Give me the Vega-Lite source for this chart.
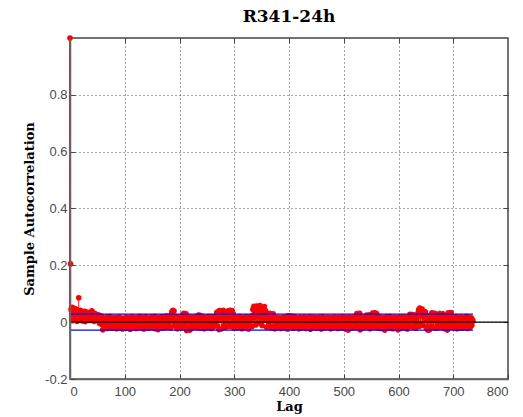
{
  "$schema": "https://vega.github.io/schema/vega-lite/v6.json",
  "width": 438,
  "height": 341,
  "autosize": "none",
  "padding": {"left": 70, "top": 38, "right": 15, "bottom": 38},
  "background": "white",
  "title": {"text": "R341-24h", "font": "DejaVu Serif", "fontSize": 17, "fontWeight": "bold", "color": "#000", "offset": 9},
  "config": {
    "view": {"stroke": "#444", "strokeWidth": 1.5},
    "axis": {
      "labelFont": "Liberation Sans", "labelFontSize": 13, "labelColor": "#4a4a4a",
      "domainColor": "#666", "domainWidth": 1.5, "tickColor": "#444", "tickSize": -5,
      "gridColor": "#000", "gridDash": [1, 3], "gridOpacity": 0.7,
      "titleFont": "DejaVu Serif", "titleFontWeight": "bold", "titleFontSize": 13, "titleColor": "#000"
    }
  },
  "resolve": {"axis": {"x": "independent", "y": "independent"}},
  "datasets": {
    "acf": [
      {"lag":0,"acf":1.0},{"lag":1,"acf":0.205},{"lag":2,"acf":0.045},{"lag":3,"acf":0.038},{"lag":4,"acf":0.052},{"lag":5,"acf":0.005},{"lag":6,"acf":0.041},{"lag":7,"acf":0.025},{"lag":8,"acf":0.036},{"lag":9,"acf":0.048},
      {"lag":10,"acf":0.033},{"lag":11,"acf":0.028},{"lag":12,"acf":0.044},{"lag":13,"acf":0.003},{"lag":14,"acf":0.039},{"lag":15,"acf":0.030},{"lag":16,"acf":0.086},{"lag":17,"acf":0.035},{"lag":18,"acf":0.026},{"lag":19,"acf":0.042},
      {"lag":20,"acf":0.031},{"lag":21,"acf":0.019},{"lag":22,"acf":0.037},{"lag":23,"acf":0.004},{"lag":24,"acf":0.034},{"lag":25,"acf":0.015},{"lag":26,"acf":0.029},{"lag":27,"acf":0.038},{"lag":28,"acf":0.002},{"lag":29,"acf":0.033},
      {"lag":30,"acf":0.018},{"lag":31,"acf":0.027},{"lag":32,"acf":0.035},{"lag":33,"acf":0.012},{"lag":34,"acf":0.024},{"lag":35,"acf":0.030},{"lag":36,"acf":0.006},{"lag":37,"acf":0.026},{"lag":38,"acf":0.020},{"lag":39,"acf":0.034},
      {"lag":40,"acf":0.040},{"lag":41,"acf":0.022},{"lag":42,"acf":0.011},{"lag":43,"acf":0.028},{"lag":44,"acf":0.003},{"lag":45,"acf":0.031},{"lag":46,"acf":0.009},{"lag":47,"acf":0.024},{"lag":48,"acf":0.014},{"lag":49,"acf":0.027},
      {"lag":50,"acf":0.006},{"lag":51,"acf":0.020},{"lag":52,"acf":0.012},{"lag":53,"acf":0.025},{"lag":54,"acf":-0.004},{"lag":55,"acf":0.016},{"lag":56,"acf":0.003},{"lag":57,"acf":0.021},{"lag":58,"acf":-0.008},{"lag":59,"acf":0.011},
      {"lag":60,"acf":-0.027},{"lag":61,"acf":0.005},{"lag":62,"acf":-0.015},{"lag":63,"acf":0.014},{"lag":64,"acf":-0.020},{"lag":65,"acf":0.002},{"lag":66,"acf":-0.011},{"lag":67,"acf":0.018},{"lag":68,"acf":-0.022},{"lag":69,"acf":0.008},
      {"lag":70,"acf":-0.016},{"lag":71,"acf":0.012},{"lag":72,"acf":-0.006},{"lag":73,"acf":0.020},{"lag":74,"acf":-0.019},{"lag":75,"acf":0.004},{"lag":76,"acf":-0.012},{"lag":77,"acf":0.015},{"lag":78,"acf":-0.021},{"lag":79,"acf":0.007},
      {"lag":80,"acf":0.010},{"lag":81,"acf":-0.018},{"lag":82,"acf":0.003},{"lag":83,"acf":0.016},{"lag":84,"acf":-0.009},{"lag":85,"acf":-0.023},{"lag":86,"acf":0.006},{"lag":87,"acf":0.013},{"lag":88,"acf":-0.014},{"lag":89,"acf":0.001},
      {"lag":90,"acf":0.018},{"lag":91,"acf":-0.020},{"lag":92,"acf":-0.005},{"lag":93,"acf":0.009},{"lag":94,"acf":-0.012},{"lag":95,"acf":0.014},{"lag":96,"acf":-0.024},{"lag":97,"acf":0.004},{"lag":98,"acf":0.011},{"lag":99,"acf":-0.016},
      {"lag":100,"acf":0.007},{"lag":101,"acf":-0.002},{"lag":102,"acf":0.017},{"lag":103,"acf":-0.021},{"lag":104,"acf":0.010},{"lag":105,"acf":-0.008},{"lag":106,"acf":0.002},{"lag":107,"acf":0.015},{"lag":108,"acf":-0.017},{"lag":109,"acf":0.005},
      {"lag":110,"acf":-0.025},{"lag":111,"acf":0.012},{"lag":112,"acf":-0.006},{"lag":113,"acf":0.019},{"lag":114,"acf":-0.013},{"lag":115,"acf":0.003},{"lag":116,"acf":0.009},{"lag":117,"acf":-0.019},{"lag":118,"acf":0.014},{"lag":119,"acf":-0.003},
      {"lag":120,"acf":0.006},{"lag":121,"acf":-0.022},{"lag":122,"acf":0.016},{"lag":123,"acf":-0.010},{"lag":124,"acf":0.001},{"lag":125,"acf":0.012},{"lag":126,"acf":-0.015},{"lag":127,"acf":0.020},{"lag":128,"acf":-0.007},{"lag":129,"acf":0.004},
      {"lag":130,"acf":-0.020},{"lag":131,"acf":0.011},{"lag":132,"acf":0.017},{"lag":133,"acf":-0.012},{"lag":134,"acf":0.002},{"lag":135,"acf":-0.024},{"lag":136,"acf":0.008},{"lag":137,"acf":0.014},{"lag":138,"acf":-0.005},{"lag":139,"acf":0.019},
      {"lag":140,"acf":-0.016},{"lag":141,"acf":0.006},{"lag":142,"acf":-0.001},{"lag":143,"acf":0.013},{"lag":144,"acf":-0.021},{"lag":145,"acf":0.010},{"lag":146,"acf":0.003},{"lag":147,"acf":-0.011},{"lag":148,"acf":0.018},{"lag":149,"acf":-0.006},
      {"lag":150,"acf":0.009},{"lag":151,"acf":-0.019},{"lag":152,"acf":0.015},{"lag":153,"acf":0.001},{"lag":154,"acf":-0.013},{"lag":155,"acf":0.020},{"lag":156,"acf":-0.023},{"lag":157,"acf":0.007},{"lag":158,"acf":0.012},{"lag":159,"acf":-0.008},
      {"lag":160,"acf":0.004},{"lag":161,"acf":-0.026},{"lag":162,"acf":0.016},{"lag":163,"acf":-0.004},{"lag":164,"acf":0.011},{"lag":165,"acf":-0.017},{"lag":166,"acf":0.002},{"lag":167,"acf":0.019},{"lag":168,"acf":-0.010},{"lag":169,"acf":0.008},
      {"lag":170,"acf":-0.021},{"lag":171,"acf":0.013},{"lag":172,"acf":-0.002},{"lag":173,"acf":0.017},{"lag":174,"acf":-0.014},{"lag":175,"acf":0.005},{"lag":176,"acf":0.021},{"lag":177,"acf":-0.018},{"lag":178,"acf":0.010},{"lag":179,"acf":-0.006},
      {"lag":180,"acf":0.015},{"lag":181,"acf":-0.011},{"lag":182,"acf":0.003},{"lag":183,"acf":0.022},{"lag":184,"acf":-0.020},{"lag":185,"acf":0.012},{"lag":186,"acf":0.036},{"lag":187,"acf":0.026},{"lag":188,"acf":0.042},{"lag":189,"acf":0.018},
      {"lag":190,"acf":0.039},{"lag":191,"acf":-0.008},{"lag":192,"acf":0.014},{"lag":193,"acf":-0.016},{"lag":194,"acf":0.006},{"lag":195,"acf":0.020},{"lag":196,"acf":-0.023},{"lag":197,"acf":0.009},{"lag":198,"acf":-0.003},{"lag":199,"acf":0.016},
      {"lag":200,"acf":-0.012},{"lag":201,"acf":0.011},{"lag":202,"acf":0.001},{"lag":203,"acf":0.018},{"lag":204,"acf":-0.019},{"lag":205,"acf":0.007},{"lag":206,"acf":0.028},{"lag":207,"acf":-0.006},{"lag":208,"acf":0.031},{"lag":209,"acf":0.013},
      {"lag":210,"acf":0.024},{"lag":211,"acf":-0.015},{"lag":212,"acf":0.029},{"lag":213,"acf":-0.029},{"lag":214,"acf":0.010},{"lag":215,"acf":-0.027},{"lag":216,"acf":0.019},{"lag":217,"acf":-0.024},{"lag":218,"acf":0.003},{"lag":219,"acf":-0.028},
      {"lag":220,"acf":0.012},{"lag":221,"acf":-0.009},{"lag":222,"acf":0.017},{"lag":223,"acf":-0.020},{"lag":224,"acf":0.005},{"lag":225,"acf":0.014},{"lag":226,"acf":-0.013},{"lag":227,"acf":0.008},{"lag":228,"acf":-0.002},{"lag":229,"acf":0.019},
      {"lag":230,"acf":-0.018},{"lag":231,"acf":0.006},{"lag":232,"acf":0.013},{"lag":233,"acf":-0.010},{"lag":234,"acf":0.024},{"lag":235,"acf":0.002},{"lag":236,"acf":0.025},{"lag":237,"acf":-0.021},{"lag":238,"acf":0.016},{"lag":239,"acf":0.022},
      {"lag":240,"acf":-0.007},{"lag":241,"acf":0.011},{"lag":242,"acf":-0.016},{"lag":243,"acf":0.018},{"lag":244,"acf":0.001},{"lag":245,"acf":-0.023},{"lag":246,"acf":0.009},{"lag":247,"acf":0.015},{"lag":248,"acf":-0.012},{"lag":249,"acf":0.004},
      {"lag":250,"acf":0.017},{"lag":251,"acf":-0.019},{"lag":252,"acf":0.007},{"lag":253,"acf":-0.004},{"lag":254,"acf":0.020},{"lag":255,"acf":-0.014},{"lag":256,"acf":0.010},{"lag":257,"acf":0.002},{"lag":258,"acf":-0.022},{"lag":259,"acf":0.013},
      {"lag":260,"acf":-0.008},{"lag":261,"acf":0.019},{"lag":262,"acf":-0.017},{"lag":263,"acf":0.006},{"lag":264,"acf":0.014},{"lag":265,"acf":-0.011},{"lag":266,"acf":0.003},{"lag":267,"acf":0.018},{"lag":268,"acf":0.034},{"lag":269,"acf":-0.013},
      {"lag":270,"acf":0.036},{"lag":271,"acf":0.025},{"lag":272,"acf":-0.026},{"lag":273,"acf":0.041},{"lag":274,"acf":0.017},{"lag":275,"acf":0.030},{"lag":276,"acf":-0.024},{"lag":277,"acf":0.038},{"lag":278,"acf":0.020},{"lag":279,"acf":0.033},
      {"lag":280,"acf":0.042},{"lag":281,"acf":-0.012},{"lag":282,"acf":0.027},{"lag":283,"acf":0.009},{"lag":284,"acf":-0.018},{"lag":285,"acf":0.015},{"lag":286,"acf":0.004},{"lag":287,"acf":-0.009},{"lag":288,"acf":0.021},{"lag":289,"acf":0.040},
      {"lag":290,"acf":0.028},{"lag":291,"acf":-0.015},{"lag":292,"acf":0.042},{"lag":293,"acf":0.019},{"lag":294,"acf":0.035},{"lag":295,"acf":-0.006},{"lag":296,"acf":0.041},{"lag":297,"acf":0.012},{"lag":298,"acf":0.030},{"lag":299,"acf":-0.020},
      {"lag":300,"acf":0.013},{"lag":301,"acf":-0.010},{"lag":302,"acf":0.018},{"lag":303,"acf":0.002},{"lag":304,"acf":-0.021},{"lag":305,"acf":0.009},{"lag":306,"acf":0.016},{"lag":307,"acf":-0.005},{"lag":308,"acf":0.011},{"lag":309,"acf":-0.017},
      {"lag":310,"acf":0.020},{"lag":311,"acf":0.004},{"lag":312,"acf":-0.013},{"lag":313,"acf":0.015},{"lag":314,"acf":-0.023},{"lag":315,"acf":0.007},{"lag":316,"acf":0.012},{"lag":317,"acf":-0.008},{"lag":318,"acf":0.017},{"lag":319,"acf":0.001},
      {"lag":320,"acf":-0.019},{"lag":321,"acf":0.014},{"lag":322,"acf":-0.003},{"lag":323,"acf":0.019},{"lag":324,"acf":-0.012},{"lag":325,"acf":0.008},{"lag":326,"acf":-0.024},{"lag":327,"acf":0.016},{"lag":328,"acf":0.005},{"lag":329,"acf":-0.009},
      {"lag":330,"acf":0.018},{"lag":331,"acf":0.010},{"lag":332,"acf":-0.016},{"lag":333,"acf":0.022},{"lag":334,"acf":0.045},{"lag":335,"acf":0.013},{"lag":336,"acf":0.056},{"lag":337,"acf":0.030},{"lag":338,"acf":0.048},{"lag":339,"acf":-0.010},
      {"lag":340,"acf":0.038},{"lag":341,"acf":0.057},{"lag":342,"acf":0.021},{"lag":343,"acf":0.050},{"lag":344,"acf":-0.004},{"lag":345,"acf":0.044},{"lag":346,"acf":0.032},{"lag":347,"acf":0.058},{"lag":348,"acf":0.016},{"lag":349,"acf":0.049},
      {"lag":350,"acf":0.027},{"lag":351,"acf":-0.012},{"lag":352,"acf":0.046},{"lag":353,"acf":0.035},{"lag":354,"acf":0.019},{"lag":355,"acf":0.055},{"lag":356,"acf":0.008},{"lag":357,"acf":0.041},{"lag":358,"acf":0.024},{"lag":359,"acf":-0.018},
      {"lag":360,"acf":0.030},{"lag":361,"acf":0.012},{"lag":362,"acf":0.028},{"lag":363,"acf":-0.009},{"lag":364,"acf":0.022},{"lag":365,"acf":0.031},{"lag":366,"acf":0.004},{"lag":367,"acf":-0.020},{"lag":368,"acf":0.026},{"lag":369,"acf":0.015},
      {"lag":370,"acf":-0.014},{"lag":371,"acf":0.029},{"lag":372,"acf":0.007},{"lag":373,"acf":0.018},{"lag":374,"acf":-0.023},{"lag":375,"acf":0.011},{"lag":376,"acf":0.016},{"lag":377,"acf":-0.006},{"lag":378,"acf":0.002},{"lag":379,"acf":0.014},
      {"lag":380,"acf":-0.017},{"lag":381,"acf":0.009},{"lag":382,"acf":0.015},{"lag":383,"acf":-0.011},{"lag":384,"acf":0.003},{"lag":385,"acf":-0.022},{"lag":386,"acf":0.013},{"lag":387,"acf":0.006},{"lag":388,"acf":-0.008},{"lag":389,"acf":0.017},
      {"lag":390,"acf":0.001},{"lag":391,"acf":-0.019},{"lag":392,"acf":0.010},{"lag":393,"acf":0.016},{"lag":394,"acf":-0.013},{"lag":395,"acf":0.005},{"lag":396,"acf":0.020},{"lag":397,"acf":-0.024},{"lag":398,"acf":0.014},{"lag":399,"acf":0.022},
      {"lag":400,"acf":-0.009},{"lag":401,"acf":0.018},{"lag":402,"acf":0.007},{"lag":403,"acf":-0.016},{"lag":404,"acf":0.021},{"lag":405,"acf":0.011},{"lag":406,"acf":-0.003},{"lag":407,"acf":0.019},{"lag":408,"acf":-0.021},{"lag":409,"acf":0.013},
      {"lag":410,"acf":0.020},{"lag":411,"acf":-0.012},{"lag":412,"acf":0.004},{"lag":413,"acf":0.015},{"lag":414,"acf":-0.018},{"lag":415,"acf":0.008},{"lag":416,"acf":-0.002},{"lag":417,"acf":0.013},{"lag":418,"acf":-0.023},{"lag":419,"acf":0.010},
      {"lag":420,"acf":0.017},{"lag":421,"acf":-0.007},{"lag":422,"acf":0.001},{"lag":423,"acf":0.014},{"lag":424,"acf":-0.020},{"lag":425,"acf":0.006},{"lag":426,"acf":0.011},{"lag":427,"acf":-0.015},{"lag":428,"acf":0.018},{"lag":429,"acf":-0.004},
      {"lag":430,"acf":0.009},{"lag":431,"acf":-0.022},{"lag":432,"acf":0.016},{"lag":433,"acf":0.003},{"lag":434,"acf":-0.011},{"lag":435,"acf":0.012},{"lag":436,"acf":-0.017},{"lag":437,"acf":0.007},{"lag":438,"acf":0.019},{"lag":439,"acf":-0.025},
      {"lag":440,"acf":0.005},{"lag":441,"acf":0.014},{"lag":442,"acf":-0.008},{"lag":443,"acf":0.010},{"lag":444,"acf":-0.019},{"lag":445,"acf":0.017},{"lag":446,"acf":0.002},{"lag":447,"acf":-0.013},{"lag":448,"acf":0.011},{"lag":449,"acf":-0.002},
      {"lag":450,"acf":0.016},{"lag":451,"acf":-0.021},{"lag":452,"acf":0.008},{"lag":453,"acf":0.013},{"lag":454,"acf":-0.010},{"lag":455,"acf":0.004},{"lag":456,"acf":0.018},{"lag":457,"acf":-0.016},{"lag":458,"acf":0.009},{"lag":459,"acf":-0.024},
      {"lag":460,"acf":0.014},{"lag":461,"acf":-0.006},{"lag":462,"acf":0.019},{"lag":463,"acf":0.001},{"lag":464,"acf":-0.014},{"lag":465,"acf":0.011},{"lag":466,"acf":-0.020},{"lag":467,"acf":0.006},{"lag":468,"acf":0.015},{"lag":469,"acf":-0.009},
      {"lag":470,"acf":0.003},{"lag":471,"acf":0.017},{"lag":472,"acf":-0.018},{"lag":473,"acf":0.010},{"lag":474,"acf":-0.004},{"lag":475,"acf":0.013},{"lag":476,"acf":-0.023},{"lag":477,"acf":0.008},{"lag":478,"acf":0.016},{"lag":479,"acf":-0.012},
      {"lag":480,"acf":0.006},{"lag":481,"acf":-0.019},{"lag":482,"acf":0.012},{"lag":483,"acf":0.018},{"lag":484,"acf":-0.007},{"lag":485,"acf":0.002},{"lag":486,"acf":-0.015},{"lag":487,"acf":0.014},{"lag":488,"acf":0.009},{"lag":489,"acf":-0.022},
      {"lag":490,"acf":0.017},{"lag":491,"acf":-0.005},{"lag":492,"acf":0.011},{"lag":493,"acf":-0.017},{"lag":494,"acf":0.004},{"lag":495,"acf":0.015},{"lag":496,"acf":-0.010},{"lag":497,"acf":0.019},{"lag":498,"acf":-0.021},{"lag":499,"acf":0.007},
      {"lag":500,"acf":0.012},{"lag":501,"acf":-0.014},{"lag":502,"acf":0.003},{"lag":503,"acf":0.016},{"lag":504,"acf":-0.024},{"lag":505,"acf":0.009},{"lag":506,"acf":-0.008},{"lag":507,"acf":0.013},{"lag":508,"acf":-0.028},{"lag":509,"acf":0.018},
      {"lag":510,"acf":0.001},{"lag":511,"acf":-0.018},{"lag":512,"acf":0.014},{"lag":513,"acf":0.006},{"lag":514,"acf":-0.011},{"lag":515,"acf":0.017},{"lag":516,"acf":-0.020},{"lag":517,"acf":0.010},{"lag":518,"acf":0.004},{"lag":519,"acf":-0.015},
      {"lag":520,"acf":0.015},{"lag":521,"acf":-0.006},{"lag":522,"acf":0.022},{"lag":523,"acf":-0.019},{"lag":524,"acf":0.030},{"lag":525,"acf":0.011},{"lag":526,"acf":0.028},{"lag":527,"acf":-0.013},{"lag":528,"acf":0.024},{"lag":529,"acf":0.031},
      {"lag":530,"acf":-0.027},{"lag":531,"acf":0.012},{"lag":532,"acf":0.018},{"lag":533,"acf":-0.009},{"lag":534,"acf":0.005},{"lag":535,"acf":-0.021},{"lag":536,"acf":0.016},{"lag":537,"acf":0.002},{"lag":538,"acf":-0.014},{"lag":539,"acf":0.013},
      {"lag":540,"acf":0.019},{"lag":541,"acf":-0.017},{"lag":542,"acf":0.025},{"lag":543,"acf":0.008},{"lag":544,"acf":0.022},{"lag":545,"acf":-0.010},{"lag":546,"acf":0.014},{"lag":547,"acf":0.026},{"lag":548,"acf":-0.023},{"lag":549,"acf":0.006},
      {"lag":550,"acf":0.017},{"lag":551,"acf":-0.012},{"lag":552,"acf":0.021},{"lag":553,"acf":0.032},{"lag":554,"acf":-0.018},{"lag":555,"acf":0.028},{"lag":556,"acf":0.011},{"lag":557,"acf":0.033},{"lag":558,"acf":-0.006},{"lag":559,"acf":0.024},
      {"lag":560,"acf":0.030},{"lag":561,"acf":-0.020},{"lag":562,"acf":0.009},{"lag":563,"acf":0.015},{"lag":564,"acf":-0.013},{"lag":565,"acf":0.003},{"lag":566,"acf":0.018},{"lag":567,"acf":-0.022},{"lag":568,"acf":0.012},{"lag":569,"acf":-0.004},
      {"lag":570,"acf":0.016},{"lag":571,"acf":-0.016},{"lag":572,"acf":0.007},{"lag":573,"acf":0.013},{"lag":574,"acf":-0.025},{"lag":575,"acf":-0.028},{"lag":576,"acf":0.010},{"lag":577,"acf":-0.009},{"lag":578,"acf":0.019},{"lag":579,"acf":0.002},
      {"lag":580,"acf":-0.018},{"lag":581,"acf":0.014},{"lag":582,"acf":0.006},{"lag":583,"acf":-0.011},{"lag":584,"acf":0.020},{"lag":585,"acf":-0.021},{"lag":586,"acf":0.009},{"lag":587,"acf":0.015},{"lag":588,"acf":-0.007},{"lag":589,"acf":0.011},
      {"lag":590,"acf":-0.023},{"lag":591,"acf":0.004},{"lag":592,"acf":0.017},{"lag":593,"acf":-0.013},{"lag":594,"acf":0.008},{"lag":595,"acf":0.012},{"lag":596,"acf":-0.019},{"lag":597,"acf":0.001},{"lag":598,"acf":0.016},{"lag":599,"acf":-0.027},
      {"lag":600,"acf":0.010},{"lag":601,"acf":-0.008},{"lag":602,"acf":0.018},{"lag":603,"acf":0.003},{"lag":604,"acf":-0.022},{"lag":605,"acf":0.013},{"lag":606,"acf":-0.012},{"lag":607,"acf":0.007},{"lag":608,"acf":0.019},{"lag":609,"acf":-0.016},
      {"lag":610,"acf":0.005},{"lag":611,"acf":0.014},{"lag":612,"acf":-0.020},{"lag":613,"acf":0.011},{"lag":614,"acf":-0.003},{"lag":615,"acf":0.017},{"lag":616,"acf":-0.024},{"lag":617,"acf":0.009},{"lag":618,"acf":0.015},{"lag":619,"acf":-0.010},
      {"lag":620,"acf":0.020},{"lag":621,"acf":0.028},{"lag":622,"acf":-0.014},{"lag":623,"acf":0.024},{"lag":624,"acf":0.012},{"lag":625,"acf":0.027},{"lag":626,"acf":-0.018},{"lag":627,"acf":0.016},{"lag":628,"acf":0.026},{"lag":629,"acf":-0.006},
      {"lag":630,"acf":0.013},{"lag":631,"acf":-0.021},{"lag":632,"acf":0.008},{"lag":633,"acf":0.018},{"lag":634,"acf":-0.011},{"lag":635,"acf":0.022},{"lag":636,"acf":0.035},{"lag":637,"acf":0.044},{"lag":638,"acf":-0.015},{"lag":639,"acf":0.050},
      {"lag":640,"acf":0.040},{"lag":641,"acf":0.030},{"lag":642,"acf":-0.008},{"lag":643,"acf":0.046},{"lag":644,"acf":0.021},{"lag":645,"acf":0.038},{"lag":646,"acf":-0.012},{"lag":647,"acf":0.033},{"lag":648,"acf":0.017},{"lag":649,"acf":0.036},
      {"lag":650,"acf":0.010},{"lag":651,"acf":-0.020},{"lag":652,"acf":0.024},{"lag":653,"acf":-0.027},{"lag":654,"acf":0.015},{"lag":655,"acf":-0.028},{"lag":656,"acf":0.019},{"lag":657,"acf":-0.026},{"lag":658,"acf":0.006},{"lag":659,"acf":0.014},
      {"lag":660,"acf":-0.013},{"lag":661,"acf":0.033},{"lag":662,"acf":0.020},{"lag":663,"acf":0.030},{"lag":664,"acf":-0.017},{"lag":665,"acf":0.011},{"lag":666,"acf":0.031},{"lag":667,"acf":0.004},{"lag":668,"acf":-0.021},{"lag":669,"acf":0.018},
      {"lag":670,"acf":0.009},{"lag":671,"acf":-0.010},{"lag":672,"acf":0.027},{"lag":673,"acf":0.015},{"lag":674,"acf":-0.019},{"lag":675,"acf":0.030},{"lag":676,"acf":0.022},{"lag":677,"acf":-0.006},{"lag":678,"acf":0.026},{"lag":679,"acf":0.012},
      {"lag":680,"acf":-0.015},{"lag":681,"acf":0.029},{"lag":682,"acf":0.007},{"lag":683,"acf":-0.022},{"lag":684,"acf":0.018},{"lag":685,"acf":0.024},{"lag":686,"acf":-0.009},{"lag":687,"acf":0.013},{"lag":688,"acf":0.003},{"lag":689,"acf":-0.028},
      {"lag":690,"acf":0.021},{"lag":691,"acf":0.033},{"lag":692,"acf":-0.012},{"lag":693,"acf":0.016},{"lag":694,"acf":0.028},{"lag":695,"acf":-0.018},{"lag":696,"acf":0.034},{"lag":697,"acf":0.010},{"lag":698,"acf":0.019},{"lag":699,"acf":-0.007},
      {"lag":700,"acf":0.014},{"lag":701,"acf":-0.020},{"lag":702,"acf":0.008},{"lag":703,"acf":0.017},{"lag":704,"acf":-0.013},{"lag":705,"acf":0.003},{"lag":706,"acf":0.019},{"lag":707,"acf":-0.023},{"lag":708,"acf":0.011},{"lag":709,"acf":0.006},
      {"lag":710,"acf":-0.016},{"lag":711,"acf":0.015},{"lag":712,"acf":0.001},{"lag":713,"acf":-0.010},{"lag":714,"acf":0.018},{"lag":715,"acf":-0.021},{"lag":716,"acf":0.009},{"lag":717,"acf":0.013},{"lag":718,"acf":-0.005},{"lag":719,"acf":0.016},
      {"lag":720,"acf":-0.019},{"lag":721,"acf":0.007},{"lag":722,"acf":0.012},{"lag":723,"acf":-0.014},{"lag":724,"acf":0.020},{"lag":725,"acf":0.002},{"lag":726,"acf":-0.022},{"lag":727,"acf":0.010},{"lag":728,"acf":0.017},{"lag":729,"acf":-0.008},
      {"lag":730,"acf":0.013},{"lag":731,"acf":-0.018},{"lag":732,"acf":0.006},{"lag":733,"acf":0.015},{"lag":734,"acf":-0.011},{"lag":735,"acf":0.009},{"lag":736,"acf":0.004}
    ],
    "zero": [{"x0": 0, "x1": 800, "v": 0}],
    "bounds": [{"x0": 0, "x1": 736, "b": 0.028}, {"x0": 0, "x1": 736, "b": -0.028}]
  },
  "layer": [
    {
      "data": {"name": "acf"},
      "mark": {"type": "rule", "color": "#ff0000", "strokeWidth": 1},
      "encoding": {
        "x": {"field": "lag", "type": "quantitative", "scale": {"domain": [0, 800], "nice": false},
              "axis": {"title": "Lag", "values": [0, 100, 200, 300, 400, 500, 600, 700, 800], "grid": false, "zindex": 1, "labelPadding": 11, "titlePadding": 2}},
        "y": {"field": "acf", "type": "quantitative", "scale": {"domain": [-0.2, 1], "nice": false, "zero": false},
              "axis": {"title": "Sample Autocorrelation", "values": [-0.2, 0, 0.2, 0.4, 0.6, 0.8], "grid": false, "zindex": 1, "labelPadding": 8, "titlePadding": 8,
                       "labelExpr": "(datum.value < 0 ? '-' : '') + format(abs(datum.value), '~g')"}},
        "y2": {"datum": 0}
      }
    },
    {
      "data": {"name": "acf"},
      "mark": {"type": "circle", "color": "#ff0000", "size": 32, "opacity": 1},
      "encoding": {
        "x": {"field": "lag", "type": "quantitative", "axis": null},
        "y": {"field": "acf", "type": "quantitative", "axis": null}
      }
    },
    {
      "data": {"name": "zero"},
      "mark": {"type": "rule", "color": "#000000", "strokeWidth": 1.3},
      "encoding": {
        "x": {"field": "x0", "type": "quantitative",
              "axis": {"orient": "top", "title": null, "labels": false, "grid": true, "zindex": 0, "domain": false, "values": [100, 200, 300, 400, 500, 600, 700]}},
        "x2": {"field": "x1"},
        "y": {"field": "v", "type": "quantitative",
              "axis": {"orient": "right", "title": null, "labels": false, "grid": true, "zindex": 0, "domain": false, "values": [0, 0.2, 0.4, 0.6, 0.8]}}
      }
    },
    {
      "data": {"name": "bounds"},
      "mark": {"type": "rule", "color": "#0000ff", "strokeWidth": 1.3},
      "encoding": {
        "x": {"field": "x0", "type": "quantitative", "axis": null},
        "x2": {"field": "x1"},
        "y": {"field": "b", "type": "quantitative", "axis": null}
      }
    }
  ]
}
